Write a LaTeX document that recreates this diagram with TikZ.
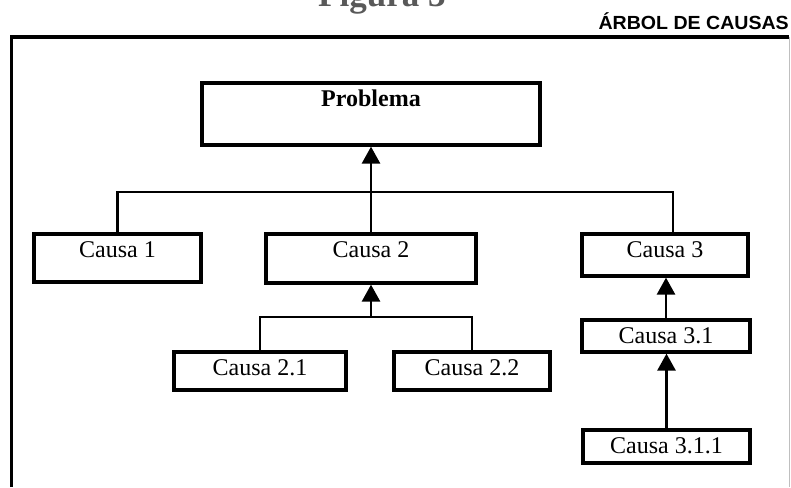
\documentclass[tikz,border=0pt]{standalone}
\usepackage{fontspec}
\setmainfont{Liberation Serif}
\newfontfamily\hdsans{Liberation Sans}
\usetikzlibrary{arrows.meta}
\begin{document}
\begin{tikzpicture}[x=1pt,y=-1pt,
  cbox/.style={draw, line width=3.3pt, inner sep=0pt},
  ctext/.style={label={[anchor=base,yshift=-25pt,inner sep=0pt,font=\fontsize{24}{26}\selectfont]north:#1}},
  link/.style={line width=2.8pt},
  arrowlink/.style={line width=2.8pt, -{Triangle[length=17pt,width=18pt]}},
  frame/.style={line width=3.2pt, black}
]
\useasboundingbox (0,0) rectangle (791,487);
% cut-off figure title
\begin{scope}
\clip (0,0) rectangle (791,487);
\node[anchor=base west, inner sep=0pt, text=black!65, font=\fontsize{35}{38}\selectfont\bfseries] (fig) at (318,7) {Figura 3};
\end{scope}
% header
\node[anchor=base east, inner sep=0pt, font=\hdsans\bfseries\fontsize{19}{21}\selectfont] (hdr) at (789,30) {\scalebox{1.03}[1]{ÁRBOL DE CAUSAS}};
% outer frame
\draw[frame] (11.5,487) -- (11.5,37) -- (789,37);
\draw[line width=1pt, black!25] (789,37) -- (789,487);
% boxes
\node[cbox, minimum width=338pt, minimum height=62pt, label={[anchor=base,yshift=-25pt,inner sep=0pt,font=\fontsize{24}{26}\selectfont\bfseries]north:Problema}] (prob) at (371,114) {};
\node[cbox, minimum width=167pt, minimum height=48pt, ctext={Causa 1}] (c1) at (117.5,258) {};
\node[cbox, minimum width=210pt, minimum height=49pt, ctext={Causa 2}] (c2) at (371,258.5) {};
\node[cbox, minimum width=166pt, minimum height=42pt, ctext={Causa 3}] (c3) at (665,255) {};
\node[cbox, minimum width=172pt, minimum height=38pt, ctext={Causa 2.1}] (c21) at (260,371) {};
\node[cbox, minimum width=156pt, minimum height=38pt, ctext={Causa 2.2}] (c22) at (472,371) {};
\node[cbox, minimum width=168pt, minimum height=32pt, ctext={Causa 3.1}] (c31) at (666,336) {};
\node[cbox, minimum width=167pt, minimum height=33pt, ctext={Causa 3.1.1}] (c311) at (666.5,446.5) {};
% junctions
\coordinate (j1) at (371,192);
\coordinate (j2) at (371,317);
\coordinate (c3top) at (673,233);
% connectors
\draw[link] (c1.north) |- (j1) -| (c3top);
\draw[arrowlink] (c2.north) -- (prob.south);
\draw[link] (c21.north) |- (j2) -| (c22.north);
\draw[arrowlink] (j2) -- (c2.south);
\draw[arrowlink] (c31.north) -- (c31.north |- c3.south);
\draw[arrowlink] (c311.north) -- (c311.north |- c31.south);
\end{tikzpicture}
\end{document}
